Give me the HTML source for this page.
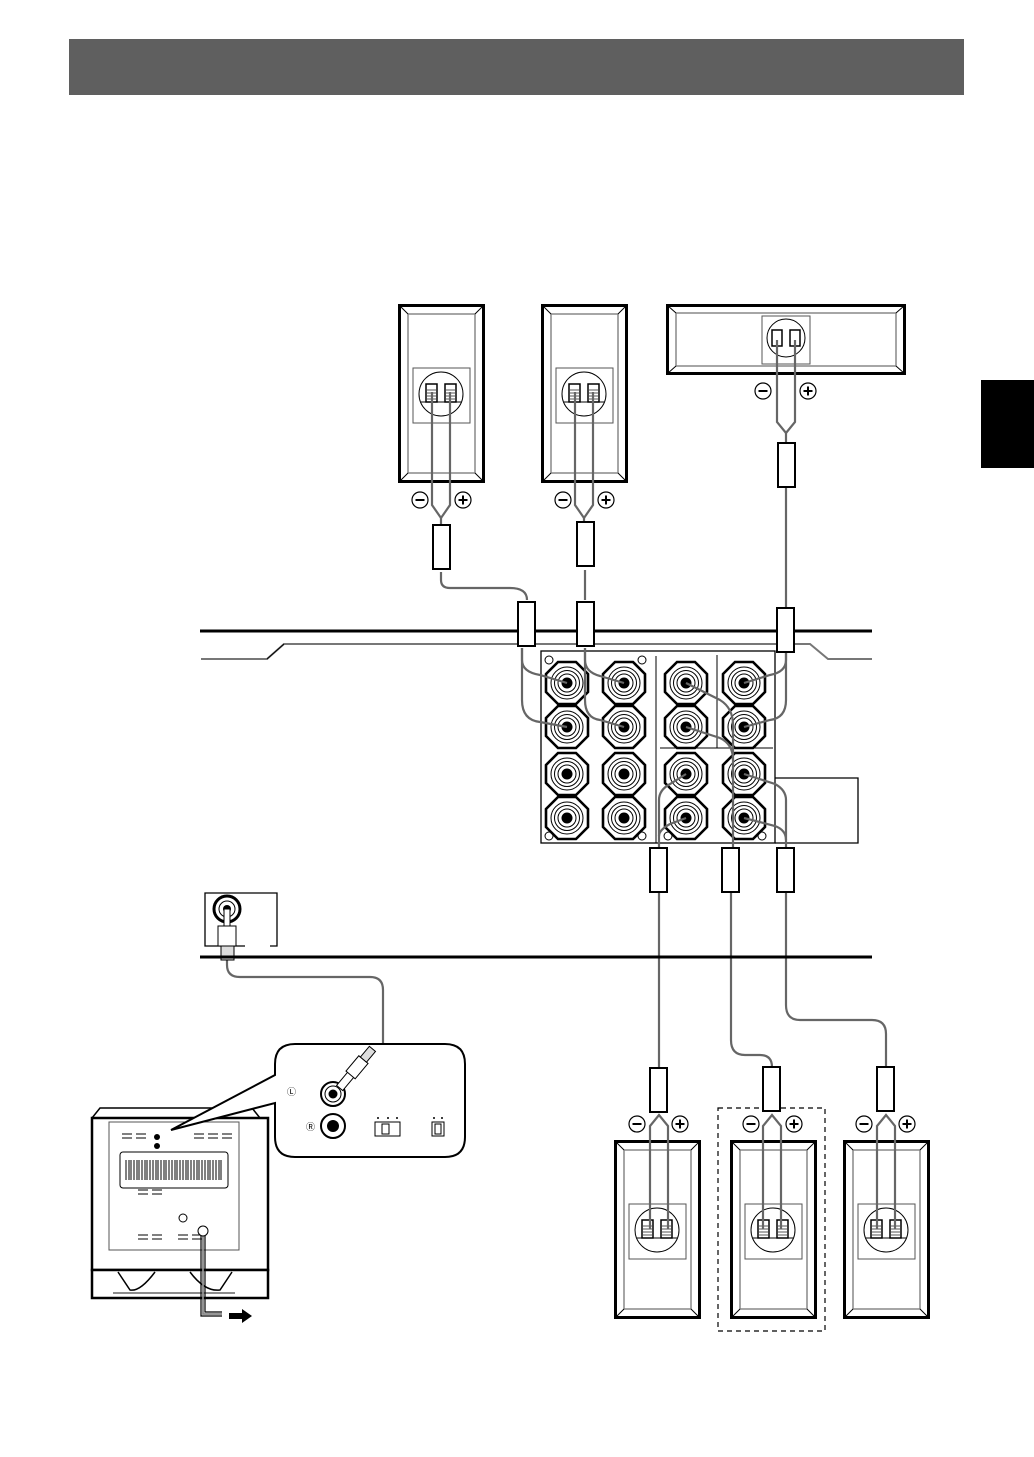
<!DOCTYPE html>
<html><head><meta charset="utf-8"><style>
html,body{margin:0;padding:0;background:#fff;}
svg{display:block;font-family:"Liberation Sans",sans-serif;}
</style></head><body>
<svg width="1034" height="1457" viewBox="0 0 1034 1457" xmlns="http://www.w3.org/2000/svg">
<defs>
  <g id="spk">
    <rect x="1.5" y="1.5" width="84" height="176" fill="#fff" stroke="#000" stroke-width="3"/>
    <rect x="10" y="10" width="67" height="159" fill="none" stroke="#777" stroke-width="1.3"/>
    <path d="M1.5 1.5L10 10M85.5 1.5L77 10M1.5 177.5L10 169M85.5 177.5L77 169" stroke="#000" stroke-width="1"/>
    <rect x="15" y="64" width="57" height="55" fill="none" stroke="#555" stroke-width="1"/>
    <circle cx="43" cy="90" r="22" fill="none" stroke="#000" stroke-width="1"/>
    <rect x="28" y="80" width="11" height="18" fill="#fff" stroke="#000" stroke-width="1.5"/>
    <rect x="47" y="80" width="11" height="18" fill="#fff" stroke="#000" stroke-width="1.5"/>
    <path d="M29 86h9M29 89h9M29 92h9M29 95h9M48 86h9M48 89h9M48 92h9M48 95h9" stroke="#555" stroke-width="1"/>
    <path d="M23 98h40" stroke="#000" stroke-width="1"/>
  </g>
  <g id="minus"><circle r="8" fill="#fff" stroke="#000" stroke-width="1.2"/><path d="M-4.5 0h9" stroke="#000" stroke-width="2"/></g>
  <g id="plus"><circle r="8" fill="#fff" stroke="#000" stroke-width="1.2"/><path d="M-4.5 0h9M0 -4.5v9" stroke="#000" stroke-width="2"/></g>
  <g id="jack">
    <polygon points="-9,-21 9,-21 21,-9 21,9 9,21 -9,21 -21,9 -21,-9" fill="#fff" stroke="#000" stroke-width="2.6"/>
    <circle r="16" fill="none" stroke="#000" stroke-width="1"/>
    <circle r="12.5" fill="none" stroke="#000" stroke-width="1"/>
    <circle r="9" fill="none" stroke="#000" stroke-width="1"/>
    <circle r="5.5" fill="#000"/>
  </g>
  <g id="sleeve"><rect x="0" y="0" width="17" height="44" fill="#fff" stroke="#000" stroke-width="2"/></g>
</defs>

<rect x="69" y="39" width="895" height="56" fill="#5f5f5f"/>
<rect x="981" y="380" width="53" height="88" fill="#000"/>

<use href="#spk" x="398" y="304"/>
<use href="#spk" x="541" y="304"/>
<rect x="667.5" y="305.5" width="237" height="68" fill="#fff" stroke="#000" stroke-width="3"/>
<rect x="676" y="313" width="220" height="53" fill="none" stroke="#777" stroke-width="1.3"/>
<path d="M667.5 305.5L676 313M904.5 305.5L896 313M667.5 373.5L676 366M904.5 373.5L896 366" stroke="#000"/>
<rect x="762" y="316" width="48" height="48" fill="#fff" stroke="#555"/>
<circle cx="786" cy="338" r="19" fill="none" stroke="#000"/>
<rect x="772" y="330" width="10" height="16" fill="#fff" stroke="#000" stroke-width="1.5"/>
<rect x="790" y="330" width="10" height="16" fill="#fff" stroke="#000" stroke-width="1.5"/>

<use href="#minus" x="420" y="500"/><use href="#plus" x="463" y="500"/>
<use href="#minus" x="563" y="500"/><use href="#plus" x="606" y="500"/>
<use href="#minus" x="763" y="391"/><use href="#plus" x="808" y="391"/>

<g fill="none" stroke="#666" stroke-width="2.2">
  <path d="M432 392V505L441 518L450 505V392"/>
  <path d="M575 392V505L584 518L593 505V392"/>
  <path d="M777 340V422L786 433L795 422V340"/>
  <path d="M441 518V525M584 518V522M786 433V443"/>
  <path d="M441 572V580Q441 588 450 588H510Q527 588 527 600"/>
  <path d="M585 570V600"/>
  <path d="M786 484V608"/>
  <path d="M659 890V1068"/>
  <path d="M731 890V1040Q731 1055 745 1055H760Q772 1055 772 1067"/>
  <path d="M786 890V1005Q786 1020 800 1020H872Q886 1020 886 1034V1067"/>
  <path d="M227 958V965Q227 977 240 977H370Q383 977 383 990V1045Q383 1055 375 1062"/>
</g>

<use href="#sleeve" x="433" y="525"/>
<use href="#sleeve" x="577" y="522"/>
<use href="#sleeve" x="778" y="443"/>

<path d="M200 631H872" stroke="#000" stroke-width="3"/>
<path d="M201 659H267L284 644H810L828 659H872" fill="none" stroke="#777" stroke-width="2"/>
<path d="M267 659L284 644" stroke="#000" stroke-width="1"/>

<rect x="541" y="651" width="234" height="192" fill="#fff" stroke="#000" stroke-width="1.3"/>
<path d="M775 778H858V843H775" fill="none" stroke="#000" stroke-width="1.3"/>
<path d="M656 656V843M717 655V748M660 748H773" stroke="#000" stroke-width="1"/>
<g fill="none" stroke="#000" stroke-width="1"><circle cx="549" cy="660" r="4"/><circle cx="642" cy="660" r="4"/><circle cx="549" cy="836" r="4"/><circle cx="642" cy="836" r="4"/><circle cx="668" cy="836" r="4"/><circle cx="762" cy="836" r="4"/></g>
<g>
  <use href="#jack" x="567" y="683"/><use href="#jack" x="567" y="727"/>
  <use href="#jack" x="567" y="774"/><use href="#jack" x="567" y="818"/>
  <use href="#jack" x="624" y="683"/><use href="#jack" x="624" y="727"/>
  <use href="#jack" x="624" y="774"/><use href="#jack" x="624" y="818"/>
  <use href="#jack" x="686" y="683"/><use href="#jack" x="686" y="727"/>
  <use href="#jack" x="686" y="774"/><use href="#jack" x="686" y="818"/>
  <use href="#jack" x="744" y="683"/><use href="#jack" x="744" y="727"/>
  <use href="#jack" x="744" y="774"/><use href="#jack" x="744" y="818"/>
</g>
<g fill="none" stroke="#666" stroke-width="2.2">
  <path d="M522 648V700Q522 720 540 722L567 727"/>
  <path d="M522 648V660Q522 672 540 675L567 683"/>
  <path d="M585 648V660Q585 672 600 676L624 683"/>
  <path d="M585 648V700Q585 718 600 720L624 727"/>
  <path d="M786 648V700Q786 718 770 720L744 727"/>
  <path d="M786 648V660Q786 672 770 675L744 683"/>
  <path d="M686 683L720 700Q733 708 733 725V848"/>
  <path d="M686 727L720 738Q733 744 733 760"/>
  <path d="M686 774L670 784Q659 790 659 800V848"/>
  <path d="M686 818L670 824Q659 830 659 836"/>
  <path d="M744 774L775 784Q786 790 786 800V848"/>
  <path d="M744 818L775 826Q786 830 786 840"/>
</g>
<use href="#sleeve" x="518" y="602"/>
<use href="#sleeve" x="577" y="602"/>
<use href="#sleeve" x="777" y="608"/>
<use href="#sleeve" x="650" y="848"/>
<use href="#sleeve" x="722" y="848"/>
<use href="#sleeve" x="777" y="848"/>

<path d="M245 946H205V893H277V946H270" fill="none" stroke="#000" stroke-width="1.3"/>
<circle cx="227" cy="909" r="13" fill="#fff" stroke="#000" stroke-width="3"/>
<circle cx="227" cy="909" r="8" fill="none" stroke="#000"/>
<circle cx="227" cy="909" r="4" fill="#000"/>
<rect x="224" y="909" width="6" height="20" fill="#fff" stroke="#000"/>
<rect x="218" y="926" width="18" height="20" fill="#fff" stroke="#000"/>
<rect x="221" y="946" width="13" height="14" fill="#ddd" stroke="#000"/>
<path d="M200 957H872" stroke="#000" stroke-width="3"/>

<rect x="718" y="1108" width="107" height="223" fill="none" stroke="#000" stroke-width="1.2" stroke-dasharray="5,4"/>
<use href="#spk" x="614" y="1140"/>
<use href="#spk" x="730" y="1140"/>
<use href="#spk" x="843" y="1140"/>
<g fill="none" stroke="#666" stroke-width="2.2">
  <path d="M650 1229V1126L659 1115L668 1126V1229"/>
  <path d="M763 1229V1126L772 1115L781 1126V1229"/>
  <path d="M877 1229V1126L886 1115L895 1126V1229"/>
</g>
<use href="#sleeve" x="650" y="1068"/>
<use href="#sleeve" x="763" y="1067"/>
<use href="#sleeve" x="877" y="1067"/>
<use href="#minus" x="637" y="1124"/><use href="#plus" x="680" y="1124"/>
<use href="#minus" x="751" y="1124"/><use href="#plus" x="794" y="1124"/>
<use href="#minus" x="864" y="1124"/><use href="#plus" x="907" y="1124"/>

<path d="M92 1118L100 1108H252L260 1118" fill="#fff" stroke="#000" stroke-width="1.5"/>
<rect x="92" y="1118" width="176" height="152" fill="#fff" stroke="#000" stroke-width="2.5"/>
<rect x="109" y="1122" width="130" height="128" fill="#fff" stroke="#555" stroke-width="1"/>
<rect x="120" y="1152" width="108" height="36" rx="3" fill="#fff" stroke="#000"/>
<g stroke="#000" stroke-width="1">
  <path d="M126 1160V1180M129 1160V1180M131 1160V1180M134 1160V1180M137 1160V1180M139 1160V1180M142 1160V1180M145 1160V1180M147 1160V1180M150 1160V1180M153 1160V1180M156 1160V1180M158 1160V1180M161 1160V1180M164 1160V1180M166 1160V1180M169 1160V1180M172 1160V1180M175 1160V1180M177 1160V1180M180 1160V1180M183 1160V1180M186 1160V1180M188 1160V1180M191 1160V1180M194 1160V1180M197 1160V1180M199 1160V1180M202 1160V1180M205 1160V1180M208 1160V1180M210 1160V1180M213 1160V1180M216 1160V1180M219 1160V1180M221 1160V1180"/>
  <path d="M122 1134h10M122 1138h10M136 1134h10M136 1138h10M194 1134h10M194 1138h10M208 1134h10M208 1138h10M222 1134h10M222 1138h10M138 1190h10M138 1194h10M152 1190h10M152 1194h10M138 1235h10M138 1239h10M152 1235h10M152 1239h10M178 1235h10M178 1239h10M192 1235h10M192 1239h10"/>
</g>
<circle cx="157" cy="1137" r="3" fill="#000"/><circle cx="157" cy="1146" r="3" fill="#000"/>
<circle cx="183" cy="1218" r="4" fill="none" stroke="#000"/>
<path d="M92 1270H268V1298H92Z" fill="#fff" stroke="#000" stroke-width="2.5"/>
<path d="M118 1272L130 1290Q140 1292 155 1272M190 1272Q205 1292 220 1290L232 1272" fill="none" stroke="#000" stroke-width="1.5"/>
<path d="M113 1293H235" stroke="#666" stroke-width="1.5"/>
<path d="M201 1232V1316H222M205 1232V1312H222" fill="none" stroke="#000" stroke-width="1.2"/>
<path d="M203 1232V1314H222" fill="none" stroke="#888" stroke-width="1.8"/>
<circle cx="203" cy="1231" r="5" fill="#fff" stroke="#000"/>
<path d="M229 1313h13v-4l10 7-10 7v-4h-13z" fill="#000"/>

<path d="M295 1044H445Q465 1044 465 1064V1137Q465 1157 445 1157H295Q275 1157 275 1137V1103L171 1130L275 1075V1064Q275 1044 295 1044Z" fill="#fff" stroke="#000" stroke-width="2"/>
<circle cx="333" cy="1094" r="12" fill="#fff" stroke="#000" stroke-width="2"/>
<circle cx="333" cy="1094" r="8" fill="none" stroke="#000"/>
<circle cx="333" cy="1094" r="4.5" fill="#000"/>
<circle cx="333" cy="1126" r="12" fill="#fff" stroke="#000" stroke-width="2"/>
<circle cx="333" cy="1126" r="6" fill="#000"/>
<g transform="translate(348 1078) rotate(40)">
  <rect x="-4" y="-5" width="8" height="18" fill="#fff" stroke="#000"/>
  <rect x="-6" y="-24" width="12" height="20" fill="#fff" stroke="#000"/>
  <rect x="-4" y="-38" width="8" height="14" fill="#ddd" stroke="#000"/>
</g>
<text x="287" y="1095" font-size="9">Ⓛ</text>
<text x="306" y="1130" font-size="9">Ⓡ</text>
<rect x="375" y="1122" width="25" height="14" fill="#fff" stroke="#000"/>
<rect x="382" y="1124" width="7" height="10" fill="#fff" stroke="#000"/>
<g fill="#000"><circle cx="378" cy="1118" r="1"/><circle cx="388" cy="1118" r="1"/><circle cx="397" cy="1118" r="1"/><circle cx="434" cy="1118" r="1"/><circle cx="442" cy="1118" r="1"/></g>
<rect x="432" y="1122" width="12" height="14" fill="#fff" stroke="#000"/>
<rect x="435" y="1124" width="6" height="10" fill="#fff" stroke="#000"/>
</svg>
</body></html>
